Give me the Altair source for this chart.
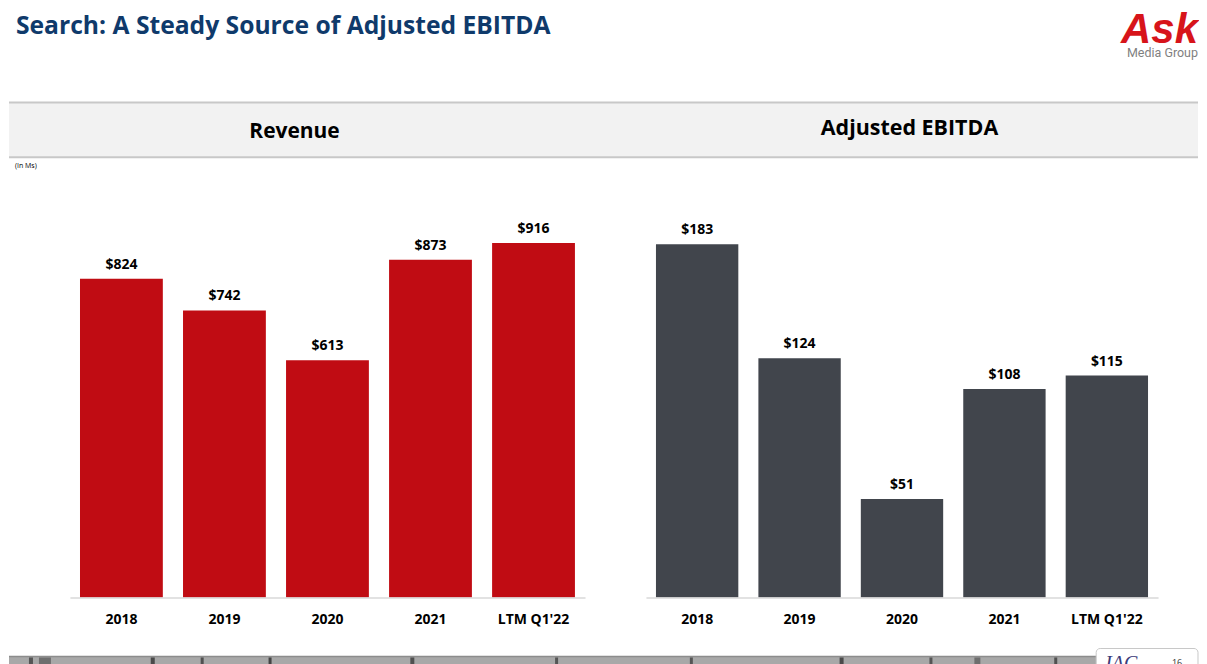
import altair as alt
import pandas as pd

years = ["2018", "2019", "2020", "2021", "LTM Q1'22"]
revenue = [824, 742, 613, 873, 916]
ebitda = [183, 124, 51, 108, 115]

rev_df = pd.DataFrame({"year": years, "value": revenue, "label": [f"${v}" for v in revenue]})
ebt_df = pd.DataFrame({"year": years, "value": ebitda, "label": [f"${v}" for v in ebitda]})

FONT = "Open Sans"
H = 417  # plot height (page y 180 -> 597)
X0, Y0 = 69, 180  # page position of left plot origin

def px(x):
    return x - X0

def py(y):
    return y - Y0

xenc = alt.X("year:N", sort=years, title=None,
             scale=alt.Scale(paddingInner=0.196, paddingOuter=0.098),
             axis=alt.Axis(labelAngle=0, labelFont=FONT, labelFontSize=14, labelFontWeight="bold",
                           labelColor="#000000", labelPadding=15, ticks=False, zindex=1,
                           domainColor="#D9D9D9", domainWidth=1.5))

def bar_chart(df, color, ymax):
    base = alt.Chart(df).encode(
        x=xenc,
        y=alt.Y("value:Q", scale=alt.Scale(domain=[0, ymax], nice=False), axis=None),
    )
    bars = base.mark_bar(color=color)
    labels = base.mark_text(dy=-14, font=FONT, fontSize=14, fontWeight="bold", color="#000000",
                            baseline="middle").encode(text="label:N")
    return bars, labels

one = pd.DataFrame({"a": [0]})

def rect(x1, y1, x2, y2, fill, stroke=None, sw=0, r=0):
    kw = dict(fill=fill)
    if stroke:
        kw.update(stroke=stroke, strokeWidth=sw)
    if r:
        kw.update(cornerRadius=r)
    return alt.Chart(one).mark_rect(**kw).encode(
        x=alt.value(px(x1)), x2=alt.value(px(x2)), y=alt.value(py(y1)), y2=alt.value(py(y2)))

def text(x, y, s, size, color="#000000", weight="normal", align="left", baseline="alphabetic",
         style="normal", font=FONT):
    return alt.Chart(one).mark_text(text=s, font=font, fontSize=size, fontWeight=weight, color=color,
                                    align=align, baseline=baseline, fontStyle=style).encode(
        x=alt.value(px(x)), y=alt.value(py(y)))

def hline(x1, x2, y, color, w):
    return alt.Chart(one).mark_rule(color=color, strokeWidth=w).encode(
        x=alt.value(px(x1)), x2=alt.value(px(x2)), y=alt.value(py(y)))

# decorations
bg = rect(8, 8, 1199, 664, "#FFFFFF")
band = rect(8, 101, 1199, 156, "#F2F2F2")
band_top = hline(8, 1199, 101, "#C8C8C8", 2)
band_bot = hline(8, 1199, 156, "#C8C8C8", 2)
title = text(15, 32, "Search: A Steady Source of Adjusted EBITDA", 24.7, color="#0F3A6B", weight="bold")
rev_title = text(294, 131, "Revenue", 21, weight="bold", align="center", baseline="middle")
ebt_title = text(910, 128, "Adjusted EBITDA", 21.5, weight="bold", align="center", baseline="middle")
in_ms = text(14, 165, "(In Ms)", 7, baseline="middle")
ask = text(1199, 41, "Ask", 42, color="#D7141A", weight="bold", align="right", style="italic",
           font="Liberation Sans")
media = text(1199, 56, "Media Group", 12.5, color="#7F7F7F", align="right", font="Roboto")
strip = rect(8, 656, 1199, 670, "#A8A8A8")
strip_line = hline(8, 1199, 656, "#8C8C8C", 1.5)
stripes = [rect(x, 657, x + w, 670, c) for x, w, c in
           [(28, 4, "#555555"), (38, 12, "#6E6E6E"), (150, 4, "#4A4A4A"), (200, 3, "#505050"),
            (268, 3, "#444444"), (410, 4, "#505050"), (555, 3, "#555555"), (690, 3, "#555555"),
            (840, 4, "#4A4A4A"), (930, 3, "#555555"), (975, 6, "#6E6E6E"), (1055, 3, "#505050")]]
iac_box = rect(1097, 648, 1199, 672, "#FFFFFF", stroke="#C8C8C8", sw=1, r=4)
iac = text(1106, 670, "IAC", 20, color="#3B3B7A", style="italic", font="Liberation Serif")
page = text(1178, 666, "16", 9, color="#333333", align="center")

rev_bars, rev_labels = bar_chart(rev_df, "#C00C13", H / 0.3876)
ebt_bars, ebt_labels = bar_chart(ebt_df, "#41454C", H / 1.934)

left = alt.layer(bg, band, band_top, band_bot, title, rev_title, ebt_title, in_ms, ask, media,
                 strip, strip_line, *stripes, iac_box, iac, page,
                 rev_bars, rev_labels).properties(width=516, height=H)
right = alt.layer(ebt_bars, ebt_labels).properties(width=513, height=H)

chart = alt.hconcat(left, right, spacing=61, bounds="flush").properties(
    padding=0
).configure_view(stroke=None)

chart.save("out.html", embed_options={"renderer": "svg", "actions": False})
